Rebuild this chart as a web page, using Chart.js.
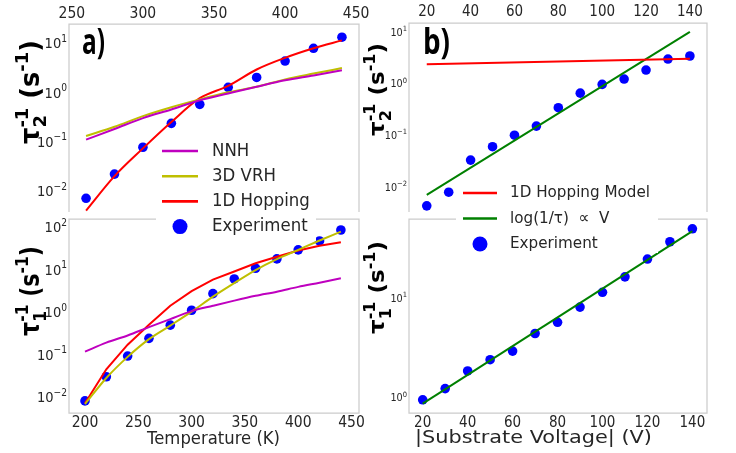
<!DOCTYPE html>
<html>
<head>
<meta charset="utf-8">
<script src="https://cdn.jsdelivr.net/npm/chart.js@4.4.0/dist/chart.umd.min.js"></script>
<style>
  html, body { margin: 0; padding: 0; background: #fff; }
  #wrap { position: relative; width: 736px; height: 453px; }
  #wrap canvas { position: absolute; left: 0; top: 0; }
</style>
</head>
<body>
<div id="wrap">
  <canvas id="aBottom" width="736" height="453"></canvas>
  <canvas id="bBottom" width="736" height="453"></canvas>
  <canvas id="aTop" width="736" height="453"></canvas>
  <canvas id="bTop" width="736" height="453"></canvas>
</div>
<script>
// ---- datos ----
const tempTop = [260, 280, 300, 320, 340, 360, 380, 400, 420, 440];
const tau2Exp = [0.0071, 0.022, 0.077, 0.235, 0.57, 1.26, 2.0, 4.3, 7.8, 13.1];
const tau2NNH = [0.11, 0.18, 0.30, 0.45, 0.69, 0.95, 1.3, 1.75, 2.2, 2.8];
const tau2VRH = [0.13, 0.20, 0.33, 0.50, 0.72, 1.0, 1.3, 1.83, 2.4, 3.1];
const tau2Hop = [0.0040, 0.020, 0.073, 0.25, 0.76, 1.35, 2.9, 5.0, 7.8, 11.3];

const tempBottom = [200, 220, 240, 260, 280, 300, 320, 340, 360, 380, 400, 420, 440];
const tau1Exp = [0.0081, 0.030, 0.092, 0.24, 0.49, 1.1, 2.7, 6.0, 10.7, 17.8, 29, 47, 85];
const tau1NNH = [0.117, 0.19, 0.28, 0.44, 0.68, 1.05, 1.4, 1.85, 2.4, 3.0, 3.9, 4.9, 6.2];
const tau1VRH = [0.0068, 0.028, 0.088, 0.23, 0.48, 1.02, 2.3, 4.8, 9.7, 17.5, 29, 48, 78];
const tau1Hop = [0.0071, 0.045, 0.17, 0.50, 1.4, 3.1, 5.8, 9.0, 14, 20, 28, 36, 44];

const voltage = [20, 30, 40, 50, 60, 70, 80, 90, 100, 110, 120, 130, 140];
const voltEnds = [20, 140];
const tau2VExp = [0.0043, 0.0079, 0.033, 0.060, 0.10, 0.15, 0.34, 0.65, 0.96, 1.22, 1.82, 2.97, 3.4];
const tau2VHop = [2.35, 3.0];
const tau2VFit = [0.0070, 10];
const tau1VExp = [0.95, 1.23, 1.85, 2.4, 2.93, 4.4, 5.7, 8.1, 11.4, 16.3, 24.6, 36.7, 49.5];
const tau1VFit = [0.87, 47];

const tempTicksTop = [250, 300, 350, 400, 450];
const tempTicksBottom = [200, 250, 300, 350, 400, 450];
const voltTicks = [20, 40, 60, 80, 100, 120, 140];
const decT2 = [-2, -1, 0, 1];
const decT1 = [-2, -1, 0, 1, 2];
const decV2 = [-2, -1, 0, 1];
const decV1 = [0, 1];

// ---- estilo ----
const FONT = '"DejaVu Sans", sans-serif';
const INK = '#262626';
const C_NNH = '#bf00bf', C_VRH = '#bfbf00', C_HOP = '#ff0000', C_EXP = '#0000ff', C_FIT = '#008000';

const xy = (xs, ys) => xs.map((x, i) => ({ x: x, y: ys[i] }));

function lineSet(label, xs, ys, color, smooth) {
    const ds = { label, data: xy(xs, ys), showLine: true, borderColor: color, backgroundColor: color,
                 borderWidth: 2, pointRadius: 0, pointHoverRadius: 0, tension: 0 };
    if (smooth !== false) ds.cubicInterpolationMode = 'monotone';
    return ds;
}
function dotSet(label, xs, ys) {
    return { label, data: xy(xs, ys), showLine: false, borderColor: C_EXP, backgroundColor: C_EXP,
             borderWidth: 0, pointRadius: 4.8, pointHoverRadius: 4.8 };
}

// texto con compresion horizontal (la figura original esta algo aplastada)
function txt(ctx, s, x, y, font, o) {
    o = o || {};
    ctx.save();
    ctx.font = font;
    ctx.fillStyle = o.color || INK;
    ctx.textAlign = 'left';
    ctx.textBaseline = o.baseline || 'middle';
    const w = ctx.measureText(s).width;
    const sx = o.w ? o.w / w : (o.sx || 1);
    const align = o.align || 'left';
    let x0 = x;
    if (align === 'center') x0 = x - w * sx / 2;
    if (align === 'right') x0 = x - w * sx;
    ctx.translate(x0, y);
    ctx.scale(sx, 1);
    ctx.fillText(s, 0, 0);
    ctx.restore();
}

// etiqueta 10^e alineada a la derecha
function powLabel(ctx, e, xr, y, size, sx) {
    const exp = e < 0 ? '\u2212' + (-e) : String(e);
    ctx.save();
    ctx.font = size + 'px ' + FONT;
    const w10 = ctx.measureText('10').width * sx;
    ctx.font = (size * 0.7) + 'px ' + FONT;
    const wE = ctx.measureText(exp).width * sx;
    ctx.restore();
    const base = y + 0.364 * size;
    txt(ctx, '10', xr - wE - w10, base, size + 'px ' + FONT, { sx, baseline: 'alphabetic' });
    txt(ctx, exp, xr - wE, base - 0.45 * size, (size * 0.7) + 'px ' + FONT, { sx, baseline: 'alphabetic' });
}

// etiqueta del eje y: tau_n^-1 (s^-1), girada
function yTitle(ctx, sub, x, y, len, F) {
    const parts = [
        { t: '\u03c4', s: F, dy: 0 },
        { t: sub, s: F * 0.7, dy: F * 0.3, hold: true },
        { t: '-1', s: F * 0.7, dy: -F * 0.42 },
        { t: ' (s', s: F, dy: 0 },
        { t: '-1', s: F * 0.7, dy: -F * 0.42 },
        { t: ')', s: F, dy: 0 }
    ];
    ctx.save();
    ctx.translate(x, y);
    ctx.rotate(-Math.PI / 2);
    const ws = parts.map(p => { ctx.font = 'bold ' + p.s + 'px ' + FONT; return ctx.measureText(p.t).width; });
    let pos = 0, held = 0;
    const xs = [];
    parts.forEach((p, i) => {
        xs.push(pos);
        if (p.hold) { held = ws[i]; } else { pos += Math.max(ws[i], held); held = 0; }
    });
    ctx.scale(len / pos, 1);
    ctx.fillStyle = '#000';
    ctx.textBaseline = 'alphabetic';
    parts.forEach((p, i) => {
        ctx.font = 'bold ' + p.s + 'px ' + FONT;
        ctx.fillText(p.t, xs[i], p.dy);
    });
    ctx.restore();
}

function drawLegend(ctx, chart, L) {
    ctx.save();
    ctx.fillStyle = '#fff';
    ctx.fillRect(L.box[0], L.box[1], L.box[2], L.box[3]);
    chart.data.datasets.forEach((ds, i) => {
        const y = L.y0 + i * L.dy;
        if (ds.showLine) {
            ctx.strokeStyle = ds.borderColor;
            ctx.lineWidth = 2.6;
            ctx.beginPath();
            ctx.moveTo(L.x, y);
            ctx.lineTo(L.x + L.len, y);
            ctx.stroke();
        } else {
            ctx.fillStyle = ds.backgroundColor;
            ctx.beginPath();
            ctx.arc(L.x + L.len / 2, y, 7.5, 0, Math.PI * 2);
            ctx.fill();
        }
        txt(ctx, ds.label, L.tx, y, L.size + 'px ' + FONT, { sx: L.sx });
    });
    ctx.restore();
}

const panelDecor = {
    id: 'panelDecor',
    afterDraw(chart, args, o) {
        const ctx = chart.ctx, a = chart.chartArea;
        const xs = chart.scales.x, ys = chart.scales.y;
        ctx.save();
        ctx.strokeStyle = '#cccccc';
        ctx.lineWidth = 1.25;
        ctx.beginPath();
        if (o.openBottom) {
            ctx.moveTo(a.left, a.bottom);
            ctx.lineTo(a.left, a.top);
            ctx.lineTo(a.right, a.top);
            ctx.lineTo(a.right, a.bottom);
        } else {
            ctx.rect(a.left, a.top, a.right - a.left, a.bottom - a.top);
        }
        ctx.stroke();
        ctx.restore();

        o.xTicks.forEach(v => {
            txt(ctx, String(v), xs.getPixelForValue(v), o.xLabelY, o.xSize + 'px ' + FONT, { sx: 0.9, align: 'center' });
        });
        o.yDecades.forEach(e => {
            powLabel(ctx, e, o.yLabelX, ys.getPixelForValue(Math.pow(10, e)), o.ySize, o.ySx);
        });
        yTitle(ctx, o.yTitle.sub, o.yTitle.x, o.yTitle.y, o.yTitle.len, o.yTitle.size);
        if (o.xTitle) {
            txt(ctx, o.xTitle.t, o.xTitle.x, o.xTitle.y, '17px ' + FONT, { w: o.xTitle.w, align: 'center' });
        }
        if (o.letter) {
            txt(ctx, o.letter.t, o.letter.x, o.letter.y, 'bold 35px "Open Sans", ' + FONT,
                { w: o.letter.w, baseline: 'alphabetic', color: '#000' });
        }
        if (o.legend) drawLegend(ctx, chart, o.legend);
    }
};

function makeChart(id, datasets, xr, yr, pad, decor) {
    return new Chart(document.getElementById(id), {
        type: 'scatter',
        data: { datasets },
        options: {
            responsive: false,
            animation: false,
            events: [],
            layout: { padding: pad },
            scales: {
                x: { type: 'linear', display: false, min: xr[0], max: xr[1] },
                y: { type: 'logarithmic', display: false, min: yr[0], max: yr[1] }
            },
            plugins: { legend: { display: false }, tooltip: { enabled: false }, panelDecor: decor }
        },
        plugins: [panelDecor]
    });
}

// a) abajo: tau1 vs temperatura
makeChart('aBottom', [
    lineSet('NNH', tempBottom, tau1NNH, C_NNH),
    lineSet('3D VRH', tempBottom, tau1VRH, C_VRH),
    lineSet('1D Hopping', tempBottom, tau1Hop, C_HOP, false),
    dotSet('Experiment', tempBottom, tau1Exp)
], [185, 457], [Math.pow(10, -2.376), Math.pow(10, 2.188)],
{ left: 69, top: 219, right: 377, bottom: 40 },
{ xTicks: tempTicksBottom, xLabelY: 422.5, xSize: 15.5, yDecades: decT1, yLabelX: 67, ySize: 14.5, ySx: 0.9,
  yTitle: { sub: '1', x: 38.5, y: 336, len: 90, size: 26 },
  xTitle: { t: 'Temperature (K)', x: 213.5, y: 440, w: 133 } });

// b) abajo: tau1 vs voltaje
makeChart('bBottom', [
    lineSet('log(1/\u03c4)  \u221d  V', voltEnds, tau1VFit, C_FIT),
    dotSet('Experiment', voltage, tau1VExp)
], [13.9, 146.5], [Math.pow(10, -0.147), Math.pow(10, 1.793)],
{ left: 409, top: 219, right: 29, bottom: 40 },
{ xTicks: voltTicks, xLabelY: 423, xSize: 15, yDecades: decV1, yLabelX: 407, ySize: 10.5, ySx: 0.92,
  yTitle: { sub: '1', x: 384, y: 334, len: 93, size: 22 },
  xTitle: { t: '|Substrate Voltage| (V)', x: 533.5, y: 439, w: 237 } });

// a) arriba: tau2 vs temperatura
makeChart('aTop', [
    lineSet('NNH', tempTop, tau2NNH, C_NNH),
    lineSet('3D VRH', tempTop, tau2VRH, C_VRH),
    lineSet('1D Hopping', tempTop, tau2Hop, C_HOP),
    dotSet('Experiment', tempTop, tau2Exp)
], [248, 452], [Math.pow(10, -2.426), Math.pow(10, 1.385)],
{ left: 69, top: 24, right: 377, bottom: 241 },
{ openBottom: true, xTicks: tempTicksTop, xLabelY: 14, xSize: 15.5, yDecades: decT2, yLabelX: 67, ySize: 14.5, ySx: 0.9,
  yTitle: { sub: '2', x: 38.5, y: 144, len: 104, size: 26 },
  letter: { t: 'a)', x: 82, y: 54, w: 23 },
  legend: { box: [156, 139, 160, 102], x: 162, len: 36, tx: 212, y0: 151, dy: 25.2, size: 18, sx: 0.92 } });

// b) arriba: tau2 vs voltaje
makeChart('bTop', [
    lineSet('1D Hopping Model', voltEnds, tau2VHop, C_HOP),
    lineSet('log(1/\u03c4)  \u221d  V', voltEnds, tau2VFit, C_FIT),
    dotSet('Experiment', voltage, tau2VExp)
], [11.9, 147.8], [Math.pow(10, -2.485), Math.pow(10, 1.17)],
{ left: 409, top: 23, right: 29, bottom: 241 },
{ openBottom: true, xTicks: voltTicks, xLabelY: 12.5, xSize: 15, yDecades: decV2, yLabelX: 407, ySize: 10.5, ySx: 0.92,
  yTitle: { sub: '2', x: 384, y: 136, len: 93, size: 22 },
  letter: { t: 'b)', x: 423, y: 54, w: 27 },
  legend: { box: [456, 181, 202, 72], x: 463, len: 34, tx: 510, y0: 193, dy: 25.5, size: 16.5, sx: 0.92 } });
</script>
</body>
</html>
